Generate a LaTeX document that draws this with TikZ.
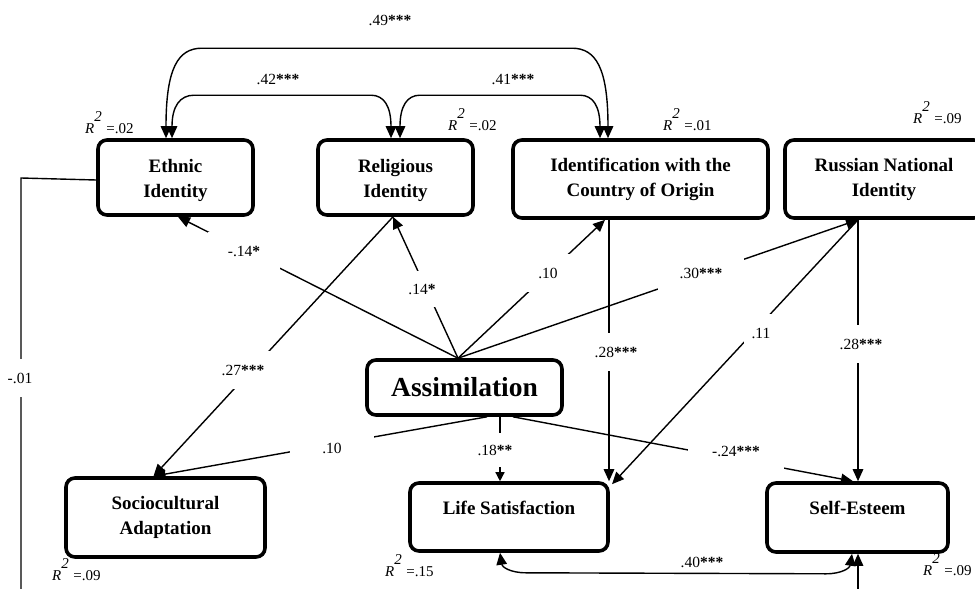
\documentclass[tikz,border=0pt]{standalone}
\usepackage{fontspec}
\setmainfont{Liberation Serif}
\usetikzlibrary{arrows.meta,calc}
% R-squared annotation: italic R with a raised 2
\newcommand\rsqtext[1]{\textit{R}\raisebox{12pt}{\textit{2}}\hspace{4.5pt}=#1}
% extra room above the first line of a box label
\newcommand\toppad{\rule{0pt}{19pt}}
\begin{document}
\begin{tikzpicture}[x=1pt,y=-1pt,
  box/.style={draw, line width=3.6pt, rounded corners=9pt, align=center, inner sep=0pt,
              font=\bfseries\fontsize{19}{25}\selectfont},
  conn/.style={line width=1.4pt},
  >={Triangle[length=12pt,width=10.5pt]},
  coef/.style={fill=white, inner xsep=10pt, inner ysep=14pt, font=\fontsize{15.5}{18}\selectfont},
  coefplain/.style={inner sep=1pt, font=\fontsize{15.5}{18}\selectfont},
  rsq/.style={anchor=base west, inner sep=0pt, font=\fontsize{15}{18}\selectfont},
]
\useasboundingbox (0,0) rectangle (975,589);

% variables
\node[box, minimum width=155pt, minimum height=75pt] (ethnic) at (175.5,177.5) {\toppad Ethnic\\Identity};
\node[box, minimum width=155pt, minimum height=75pt] (relig) at (395.5,177.5) {\toppad Religious\\Identity};
\node[box, minimum width=255pt, minimum height=78pt] (ident) at (640.5,179) {Identification with the\\Country of Origin};
\node[box, minimum width=198pt, minimum height=78pt] (russ) at (884,179) {Russian National\\Identity};
\node[box, minimum width=195pt, minimum height=55pt, font=\bfseries\fontsize{27.5}{30}\selectfont] (assim) at (464.5,387.5) {Assimilation};
\node[box, minimum width=199pt, minimum height=79pt] (socio) at (165.5,517.5) {Sociocultural\\Adaptation};
\node[box, minimum width=198pt, minimum height=68pt] (life) at (509,517) {Life Satisfaction\\[-6pt]\mbox{}};
\node[box, minimum width=181pt, minimum height=69pt] (selfe) at (857.5,517.5) {Self-Esteem\\[-6pt]\mbox{}};

% correlations among the identities
\coordinate (e49) at ([xshift=-9.5pt]ethnic.north);
\coordinate (i49) at ([xshift=-32.5pt]ident.north);
\draw[conn,<->] (e49) .. controls ($(e49)+(0,-70)$) and ($(e49)+(12,-90)$) .. ($(e49)+(36,-90)$)
  -- ($(i49)+(-36,-90)$) .. controls ($(i49)+(-12,-90)$) and ($(i49)+(0,-70)$) .. (i49);
\coordinate (e42) at ([xshift=-3.5pt]ethnic.north);
\coordinate (r42) at ([xshift=-4.5pt]relig.north);
\draw[conn,<->] (e42) .. controls ($(e42)+(0,-32)$) and ($(e42)+(8,-43)$) .. ($(e42)+(22,-43)$)
  -- ($(r42)+(-20,-43)$) .. controls ($(r42)+(-7,-43)$) and ($(r42)+(0,-32)$) .. (r42);
\coordinate (r41) at ([xshift=4.5pt]relig.north);
\coordinate (i41) at ([xshift=-40.5pt]ident.north);
\draw[conn,<->] (r41) .. controls ($(r41)+(0,-32)$) and ($(r41)+(7,-43)$) .. ($(r41)+(20,-43)$)
  -- ($(i41)+(-20,-43)$) .. controls ($(i41)+(-7,-43)$) and ($(i41)+(0,-32)$) .. (i41);

% paths from assimilation to the identities
\coordinate (hub) at ([xshift=-6.5pt]assim.north);
\draw[conn,->] (hub) -- ([xshift=2.5pt]ethnic.south);
\draw[conn,->] (hub) -- ([xshift=-2.5pt]relig.south);
\draw[conn,->] (hub) -- ([xshift=-35.5pt]ident.south);
\draw[conn,->] (hub) -- ([xshift=-26pt]russ.south);

% paths to the outcomes
\draw[conn,->] ([xshift=-2.5pt]relig.south) -- ([xshift=-12pt]socio.north);
\draw[conn,->] ([xshift=22.5pt]assim.south) -- ([xshift=-12pt]socio.north);
\draw[conn,->,>={Triangle[length=9pt,width=9pt]}] ([xshift=35.5pt]assim.south) -- ([xshift=-9pt]life.north);
\draw[conn,->] ([xshift=48.5pt]assim.south) -- ([xshift=-4.5pt]selfe.north);
\draw[conn,->] ([xshift=-31.5pt]ident.south) -- ([xshift=100pt]life.north);
\draw[conn,->] ([xshift=-26pt]russ.south) -- ([xshift=103pt,yshift=-3pt]life.north);
\draw[conn,->] ([xshift=-26pt]russ.south) -- ([xshift=0.5pt]selfe.north);

% ethnic identity path leaving the frame, and the incoming path to self-esteem
\coordinate (ebend) at (21,178);
\coordinate (ebelow) at (21,600);
\draw[conn] ([yshift=-2.5pt]ethnic.west) -- (ebend) -- (ebelow);
\coordinate (sbelow) at (858,600);
\draw[conn,->] (sbelow) -- ([xshift=0.5pt]selfe.south);

% residual correlation of the outcomes
\coordinate (l40) at ([xshift=-9pt]life.south);
\coordinate (s40) at ([xshift=-5.5pt]selfe.south);
\draw[conn,<->] (l40) .. controls ($(l40)+(2,14)$) and ($(l40)+(10,20)$) .. ($(l40)+(26,20)$)
  -- ($(s40)+(-26,20)$) .. controls ($(s40)+(-10,20)$) and ($(s40)+(-2,14)$) .. (s40);

% coefficients
\node[coefplain] (c49) at (390,20) {.49\textbf{***}};
\node[coefplain] (c42) at (278,79) {.42\textbf{***}};
\node[coefplain] (c41) at (513,79) {.41\textbf{***}};
\node[coef, inner xsep=20pt] (cm14) at (244,251) {-.14\textbf{*}};
\node[coef, inner ysep=13pt] (c14) at (422,289) {.14\textbf{*}};
\node[coef, inner xsep=14pt] (c10a) at (548,273) {.10};
\node[coef, inner xsep=22pt] (c30) at (701,273) {.30\textbf{***}};
\node[coef] (c27) at (243,370) {.27\textbf{***}};
\node[coef, inner xsep=4pt] (cm01) at (20,378) {-.01};
\node[coef, inner xsep=32pt] (c10b) at (332,448) {.10};
\node[coef, inner xsep=6pt, inner ysep=12pt] (c18) at (495,450) {.18\textbf{**}};
\node[coef, inner xsep=4pt] (c28a) at (616,352) {.28\textbf{***}};
\node[coef, inner xsep=8pt] (c11) at (761,333) {.11};
\node[coef, inner xsep=4pt] (c28b) at (861,344) {.28\textbf{***}};
\node[coef, inner xsep=24pt] (cm24) at (736,451) {-.24\textbf{***}};
\node[coefplain] (c40) at (702,562) {.40\textbf{***}};

% explained variance
\node[rsq] (r2ethnic) at (85,133) {\rsqtext{.02}};
\node[rsq] (r2relig) at (448,130) {\rsqtext{.02}};
\node[rsq] (r2ident) at (663,130) {\rsqtext{.01}};
\node[rsq] (r2russ) at (913,123) {\rsqtext{.09}};
\node[rsq] (r2socio) at (52,580) {\rsqtext{.09}};
\node[rsq] (r2life) at (385,576) {\rsqtext{.15}};
\node[rsq] (r2selfe) at (923,575) {\rsqtext{.09}};
\end{tikzpicture}
\end{document}
